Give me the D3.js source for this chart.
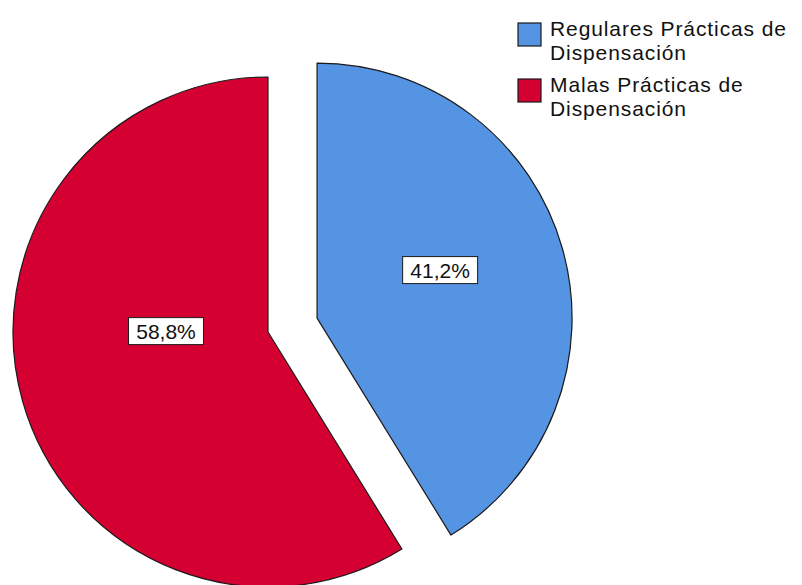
<!DOCTYPE html>
<html>
<head>
<meta charset="utf-8">
<script src="https://cdn.jsdelivr.net/npm/d3@7"></script>
<style>
  html, body { margin: 0; padding: 0; background: #fff; }
  svg { display: block; }
</style>
</head>
<body>
<svg id="chart" width="802" height="585"></svg>
<script>
// Data
const categories = ["Regulares Prácticas de Dispensación", "Malas Prácticas de Dispensación"];
const values = [41.2, 58.8];
const labels = ["41,2%", "58,8%"];
const legendLines = [["Regulares Prácticas de", "Dispensación"], ["Malas Prácticas de", "Dispensación"]];
const colors = ["#5594e3", "#d40032"];

const svg = d3.select("#chart");
const cx = 268, cy = 332, R = 255, explode = 51;
const font = "'Liberation Sans', Arial, sans-serif";

const pie = d3.pie().sort(null).value(d => d)(values);
const arc = d3.arc().innerRadius(0).outerRadius(R);

// label anchors (style): angle in degrees clockwise from top, radius fraction
const labelAnchors = [{a: 68.7, r: 0.518}, {a: 270.5, r: 0.40}];

const g = svg.selectAll("g.slice").data(pie).join("g")
  .attr("class", "slice")
  .attr("transform", (d, i) => {
    const mid = (d.startAngle + d.endAngle) / 2;
    const off = i === 0 ? explode : 0;
    const [dx, dy] = d3.pointRadial(mid, off);
    return `translate(${cx + dx},${cy + dy})`;
  });

g.append("path")
  .attr("d", arc)
  .attr("fill", (d, i) => colors[i])
  .attr("stroke", "#1a1a1a")
  .attr("stroke-width", 1.2)
  .attr("stroke-linejoin", "round");

g.each(function(d, i) {
  const sel = d3.select(this);
  const la = labelAnchors[i];
  const [lx, ly] = d3.pointRadial(la.a * Math.PI / 180, la.r * R);
  const w = 75, h = 27;
  sel.append("rect")
    .attr("x", lx - w / 2).attr("y", ly - h / 2)
    .attr("width", w).attr("height", h)
    .attr("fill", "#fff").attr("stroke", "#1a1a1a").attr("stroke-width", 1);
  sel.append("text")
    .attr("x", lx).attr("y", ly + 7.5)
    .attr("text-anchor", "middle")
    .attr("font-family", font)
    .attr("font-size", 21)
    .attr("fill", "#111")
    .text(labels[i]);
});

// Legend
const legend = svg.append("g").attr("class", "legend");
const legY = [23, 79];
categories.forEach((c, i) => {
  legend.append("rect")
    .attr("x", 518).attr("y", legY[i])
    .attr("width", 23).attr("height", 23)
    .attr("fill", colors[i]).attr("stroke", "#1a1a1a").attr("stroke-width", 1.2);
  legendLines[i].forEach((ln, j) => {
    legend.append("text")
      .attr("x", 550).attr("y", legY[i] + 13 + j * 23.6)
      .attr("font-family", font).attr("font-size", 21)
      .attr("letter-spacing", 0.9).attr("fill", "#111")
      .text(ln);
  });
});
</script>
</body>
</html>
